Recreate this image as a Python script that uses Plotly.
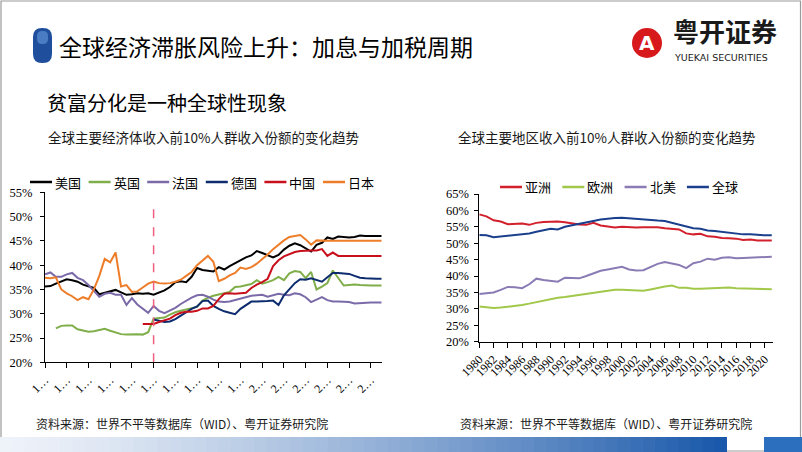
import plotly.graph_objects as go

W, H = 802, 452


def px(x):
    return x / W


def py(y):
    return 1 - y / H


# ---------------- data: left chart (top 10% income share, %) ----------------
years_left = list(range(1960, 2023))
left_names = ["美国", "英国", "法国", "德国", "中国", "日本"]
left_colors = ["#000000", "#7FAE4A", "#7B6AA8", "#0D2C6E", "#C8101C", "#EE7D2A"]

us = [35.6, 35.7, 36.2, 36.7, 37.1, 36.9, 36.6, 36.0, 35.7, 35.3,
      34.0, 34.3, 34.6, 34.9, 34.4, 33.9, 34.0, 34.2, 34.1, 34.2,
      33.9, 34.4, 34.8, 35.5, 36.5, 36.7, 36.5, 37.6, 39.4, 39.0,
      38.8, 38.7, 39.6, 39.1, 39.8, 40.4, 41.1, 41.6, 42.0, 42.9,
      42.5, 42.1, 41.6, 42.1, 43.2, 44.0, 44.5, 44.1, 43.5, 42.8,
      44.2, 44.6, 45.7, 45.4, 45.9, 45.8, 45.7, 45.8, 46.1, 46.0,
      46.0, 46.0, 46.0]
uk = [None, None, 27.0, 27.5, 27.6, 27.6, 26.8, 26.5, 26.3, 26.4,
      26.6, 26.9, 26.5, 26.1, 25.8, 25.7, 25.8, 25.8, 25.7, 26.2,
      29.0, 29.1, 29.2, 29.8, 30.3, 30.6, 30.9, 31.2, 31.4, 32.7,
      33.3, 33.7, 33.9, 34.2, 34.5, 35.5, 35.6, 35.8, 36.1, 36.9,
      36.2, 36.5, 36.9, 37.6, 36.9, 38.3, 38.8, 38.6, 37.3, 38.6,
      35.0, 35.6, 36.3, 38.9, 37.3, 35.8, 35.9, 36.0, 35.9, 35.8,
      35.8, 35.8, 35.8]
fr = [38.1, 38.5, 37.6, 37.6, 38.1, 38.4, 37.4, 36.9, 35.9, 34.6,
      33.5, 34.1, 34.3, 33.9, 33.9, 31.8, 33.2, 31.9, 31.0, 30.2,
      31.6, 30.6, 30.1, 30.7, 31.2, 32.0, 32.7, 33.3, 33.8, 33.9,
      33.5, 32.9, 32.5, 32.4, 32.5, 32.8, 33.2, 33.5, 33.7, 33.8,
      33.9, 33.5, 33.8, 34.1, 33.9, 33.8, 34.2, 34.0, 33.4, 32.4,
      32.9, 33.4, 32.8, 32.5, 32.5, 32.5, 32.4, 32.1, 32.2, 32.3,
      32.3, 32.3, 32.3]
de = [None] * 20 + [
      28.8, 28.5, 28.3, 28.4, 28.9, 29.6, 30.3, 31.0, 31.5, 32.6,
      32.7, 31.6, 31.0, 30.5, 30.2, 29.9, 31.0, 31.8, 32.5, 32.5,
      32.5, 32.6, 32.7, 31.8, 33.8, 35.0, 36.3, 37.1, 37.0, 37.3,
      36.9, 36.6, 37.5, 38.4, 38.4, 38.3, 38.2, 37.8, 37.4, 37.3,
      37.2, 37.2, 37.2]
cn = [None] * 18 + [
      27.9, 27.9,
      27.9, 28.3, 28.6, 29.0, 29.7, 30.2, 30.4, 30.4, 30.6, 31.1,
      31.1, 31.6, 33.0, 34.1, 34.2, 34.1, 34.2, 34.3, 35.3, 36.0,
      36.5, 37.2, 39.8, 41.0, 41.8, 42.3, 42.7, 42.9, 43.0, 43.0,
      43.0, 43.3, 41.9, 42.6, 41.9, 41.9, 41.9, 41.9, 41.9, 41.9,
      41.9, 41.9, 41.9]
jp = [37.4, 37.3, 37.5, 35.0, 34.2, 33.6, 32.8, 33.4, 33.0, 35.0,
      37.8, 41.3, 40.6, 42.6, 35.6, 35.9, 34.5, 34.6, 35.4, 36.2,
      36.6, 36.3, 36.2, 36.3, 36.6, 37.0, 37.8, 38.6, 40.0, 41.0,
      41.9, 40.7, 36.7, 37.2, 37.9, 38.4, 39.5, 39.2, 39.6, 40.3,
      41.2, 42.2, 43.3, 44.2, 45.1, 45.8, 46.0, 46.2, 45.3, 44.2,
      45.1, 45.0, 45.0, 45.0, 45.0, 45.0, 45.0, 45.0, 45.0, 45.0,
      45.0, 45.0, 45.0]
left_series = [us, uk, fr, de, cn, jp]
reform_year = 1980
left_ticks = list(range(1960, 2021, 4))
left_ticktext = ["1…" if t < 2000 else "2…" for t in left_ticks]
left_yticks = list(range(20, 56, 5))

# ---------------- data: right chart ----------------
years_right = list(range(1980, 2022))
right_names = ["亚洲", "欧洲", "北美", "全球"]
right_colors = ["#D2202C", "#A2C84A", "#8A7BB4", "#1A3F8C"]

asia = [58.8, 58.2, 57.0, 56.6, 55.8, 55.8, 56.0, 55.6, 56.2, 56.5,
        56.6, 56.6, 56.4, 56.0, 55.7, 55.6, 56.2, 55.4, 55.0, 54.8,
        55.0, 54.8, 54.8, 54.9, 54.9, 54.9, 54.6, 54.4, 54.2, 53.0,
        52.7, 52.9, 52.1, 52.0, 51.6, 51.5, 51.4, 51.0, 51.1, 50.8,
        50.8, 50.8]
europe = [30.7, 30.4, 30.3, 30.4, 30.6, 30.8, 31.2, 31.6, 32.1, 32.6,
          33.1, 33.4, 33.6, 33.9, 34.2, 34.5, 34.9, 35.3, 35.6, 35.8,
          35.8, 35.7, 35.6, 35.5, 35.9, 36.4, 36.8, 37.1, 36.4, 36.4,
          36.1, 36.1, 36.2, 36.5, 36.6, 36.5, 36.3, 36.2, 36.1, 36.0,
          36.0, 36.0]
namerica = [34.5, 34.7, 35.0, 35.8, 36.7, 36.6, 36.3, 37.5, 39.2, 38.8,
            38.6, 38.3, 39.5, 39.3, 39.3, 40.0, 40.9, 41.6, 42.0, 42.5,
            42.8, 42.0, 41.7, 41.8, 42.7, 43.7, 44.3, 43.9, 43.4, 42.4,
            43.9, 44.4, 45.3, 45.0, 45.6, 45.7, 45.4, 45.5, 45.6, 45.6,
            45.8, 45.9]
world = [52.5, 52.4, 51.8, 52.0, 52.2, 52.4, 52.7, 53.0, 53.5, 54.0,
         54.4, 54.2, 55.0, 55.5, 56.0, 56.4, 56.8, 57.2, 57.5, 57.7,
         57.8, 57.6, 57.3, 57.2, 57.1, 56.9, 56.8, 56.2, 55.7, 55.0,
         54.6, 54.4, 53.9, 53.7, 53.4, 53.3, 53.0, 52.7, 52.7, 52.5,
         52.4, 52.4]
right_series = [asia, europe, namerica, world]
right_ticks = list(range(1980, 2021, 2))
right_yticks = list(range(20, 66, 5))

# ---------------- text ----------------
title = "全球经济滞胀风险上升：加息与加税周期"
subtitle = "贫富分化是一种全球性现象"
left_title = "全球主要经济体收入前10%人群收入份额的变化趋势"
right_title = "全球主要地区收入前10%人群收入份额的变化趋势"
source = "资料来源：世界不平等数据库（WID）、粤开证券研究院"

CJK = "Noto Sans CJK SC"
SERIF = "Liberation Serif, Noto Sans CJK SC"

fig = go.Figure()
for name, vals, col in zip(left_names, left_series, left_colors):
    fig.add_trace(go.Scatter(x=years_left, y=vals, name=name, mode="lines",
                             line=dict(color=col, width=2), xaxis="x", yaxis="y",
                             showlegend=False, connectgaps=False))
for name, vals, col in zip(right_names, right_series, right_colors):
    fig.add_trace(go.Scatter(x=years_right, y=vals, name=name, mode="lines",
                             line=dict(color=col, width=2), xaxis="x2", yaxis="y2",
                             showlegend=False))


def axis(**kw):
    base = dict(showgrid=False, zeroline=False, showline=True, linecolor="#000000",
                linewidth=1, ticks="outside", tickcolor="#000000", tickwidth=1,
                automargin=False,
                tickfont=dict(family=SERIF, size=12.5, color="#000000"))
    base.update(kw)
    return base


fig.update_layout(
    width=W, height=H, autosize=False,
    margin=dict(l=0, r=0, t=0, b=0, pad=0, autoexpand=False),
    paper_bgcolor="white", plot_bgcolor="white", showlegend=False,
    xaxis=axis(domain=[px(45), px(381.7)], range=[1960, 2022], tickmode="array",
               tickvals=left_ticks, ticktext=left_ticktext, tickangle=-45, ticklen=5,
               anchor="y", tickfont=dict(family=SERIF, size=12, color="#000000")),
    yaxis=axis(domain=[py(362.3), py(192.3)], range=[20, 55], tickmode="array",
               tickvals=left_yticks, ticktext=[f"{v}%" for v in left_yticks],
               ticklen=4, ticklabelstandoff=5, anchor="x"),
    xaxis2=axis(domain=[px(479.3), px(773)], range=[1980, 2021.17], tickmode="array",
                tickvals=right_ticks, ticktext=[str(v) for v in right_ticks],
                tickangle=-45, ticklen=5, anchor="y2",
                tickfont=dict(family=SERIF, size=12, color="#000000")),
    yaxis2=axis(domain=[py(341.7), py(194)], range=[20, 65], tickmode="array",
                tickvals=right_yticks, ticktext=[f"{v}%" for v in right_yticks],
                ticklen=4, ticklabelstandoff=3, anchor="x2"),
)

shapes = []
annotations = []

# slide frame
shapes.append(dict(type="rect", xref="paper", yref="paper", x0=px(1), x1=px(800.5),
                   y0=py(451), y1=py(1), line=dict(color="#9A9A9A", width=1.2), layer="below"))

# bottom gradient bar
n_seg = 60
x_start, x_end = 0, 727
c0, c1 = (238, 242, 249), (25, 88, 170)
for i in range(n_seg):
    t = i / (n_seg - 1)
    t2 = t ** 1.3
    col = tuple(int(round(c0[k] + (c1[k] - c0[k]) * t2)) for k in range(3))
    xa = x_start + (x_end - x_start) * i / n_seg
    xb = x_start + (x_end - x_start) * (i + 1) / n_seg + 0.6
    shapes.append(dict(type="rect", xref="paper", yref="paper", x0=px(xa), x1=px(min(xb, x_end)),
                       y0=py(452), y1=py(437), line=dict(width=0),
                       fillcolor="rgb(%d,%d,%d)" % col, layer="below"))
shapes.append(dict(type="rect", xref="paper", yref="paper", x0=px(764), x1=px(802),
                   y0=py(452), y1=py(437), line=dict(width=0), fillcolor="#2B6FBE", layer="below"))


# title pill icon
def rounded_rect(x0, y0, x1, y1, r):
    X = lambda v: px(v)
    Y = lambda v: py(v)
    return (f"M {X(x0 + r)},{Y(y0)} L {X(x1 - r)},{Y(y0)} "
            f"Q {X(x1)},{Y(y0)} {X(x1)},{Y(y0 + r)} L {X(x1)},{Y(y1 - r)} "
            f"Q {X(x1)},{Y(y1)} {X(x1 - r)},{Y(y1)} L {X(x0 + r)},{Y(y1)} "
            f"Q {X(x0)},{Y(y1)} {X(x0)},{Y(y1 - r)} L {X(x0)},{Y(y0 + r)} "
            f"Q {X(x0)},{Y(y0)} {X(x0 + r)},{Y(y0)} Z")


shapes.append(dict(type="path", xref="paper", yref="paper", path=rounded_rect(33, 28, 52, 63, 9),
                   fillcolor="#1E4E9C", line=dict(width=0)))
shapes.append(dict(type="path", xref="paper", yref="paper", path=rounded_rect(37, 31, 48, 44, 5),
                   fillcolor="#4A7CC4", line=dict(width=0)))

# logo emblem
shapes.append(dict(type="circle", xref="paper", yref="paper", x0=px(632), x1=px(662),
                   y0=py(58), y1=py(28), fillcolor="#D7191C", line=dict(width=0)))
annotations.append(dict(text="<b>A</b>", x=px(647), y=py(43), xref="paper", yref="paper",
                        showarrow=False, font=dict(family="DejaVu Sans", size=20, color="white"),
                        xanchor="center", yanchor="middle"))
annotations.append(dict(text="<b>粤开证券</b>", x=px(671), y=py(51), xref="paper", yref="paper",
                        showarrow=False, font=dict(family=CJK, size=26, color="#1A1A1A"),
                        xanchor="left", yanchor="bottom"))
annotations.append(dict(text="YUEKAI SECURITIES", x=px(672), y=py(50), xref="paper", yref="paper",
                        showarrow=False, font=dict(family="DejaVu Sans", size=9.5, color="#1A1A1A"),
                        xanchor="left", yanchor="top"))

# texts
annotations.append(dict(text=title, x=px(57), y=py(46), xref="paper", yref="paper", showarrow=False,
                        font=dict(family=CJK, size=23, color="#000000"), xanchor="left", yanchor="middle"))
annotations.append(dict(text=subtitle, x=px(45), y=py(102), xref="paper", yref="paper", showarrow=False,
                        font=dict(family=CJK, size=20, color="#000000"), xanchor="left", yanchor="middle"))
annotations.append(dict(text=left_title, x=px(46), y=py(137), xref="paper", yref="paper", showarrow=False,
                        font=dict(family=CJK, size=13.5, color="#1A1A1A"), xanchor="left", yanchor="middle"))
annotations.append(dict(text=right_title, x=px(456), y=py(137), xref="paper", yref="paper", showarrow=False,
                        font=dict(family=CJK, size=13.5, color="#1A1A1A"), xanchor="left", yanchor="middle"))
for sx in (34, 458):
    annotations.append(dict(text=source, x=px(sx), y=py(423), xref="paper", yref="paper", showarrow=False,
                            font=dict(family=CJK, size=12, color="#1A1A1A"), xanchor="left", yanchor="middle"))


# manual legends
def legend(names, colors, x0, step, y):
    for i, (n, c) in enumerate(zip(names, colors)):
        lx = x0 + i * step
        shapes.append(dict(type="line", xref="paper", yref="paper", x0=px(lx), x1=px(lx + 22),
                           y0=py(y), y1=py(y), line=dict(color=c, width=2.5)))
        annotations.append(dict(text=n, x=px(lx + 23), y=py(y), xref="paper", yref="paper",
                                showarrow=False, font=dict(family=CJK, size=13, color="#000000"),
                                xanchor="left", yanchor="middle"))


legend(left_names, left_colors, 30, 58.6, 182)
legend(right_names, right_colors, 500, 62.3, 187)

# reform-year dashed marker
shapes.append(dict(type="line", xref="x", yref="y", x0=reform_year, x1=reform_year, y0=20, y1=52,
                   line=dict(color="#F0607E", width=1.5, dash="dash")))

fig.update_layout(shapes=shapes, annotations=annotations)
fig.write_html("out.html", config={"displayModeBar": False},
               post_script="document.body.style.margin='0';document.body.style.overflow='hidden';")
